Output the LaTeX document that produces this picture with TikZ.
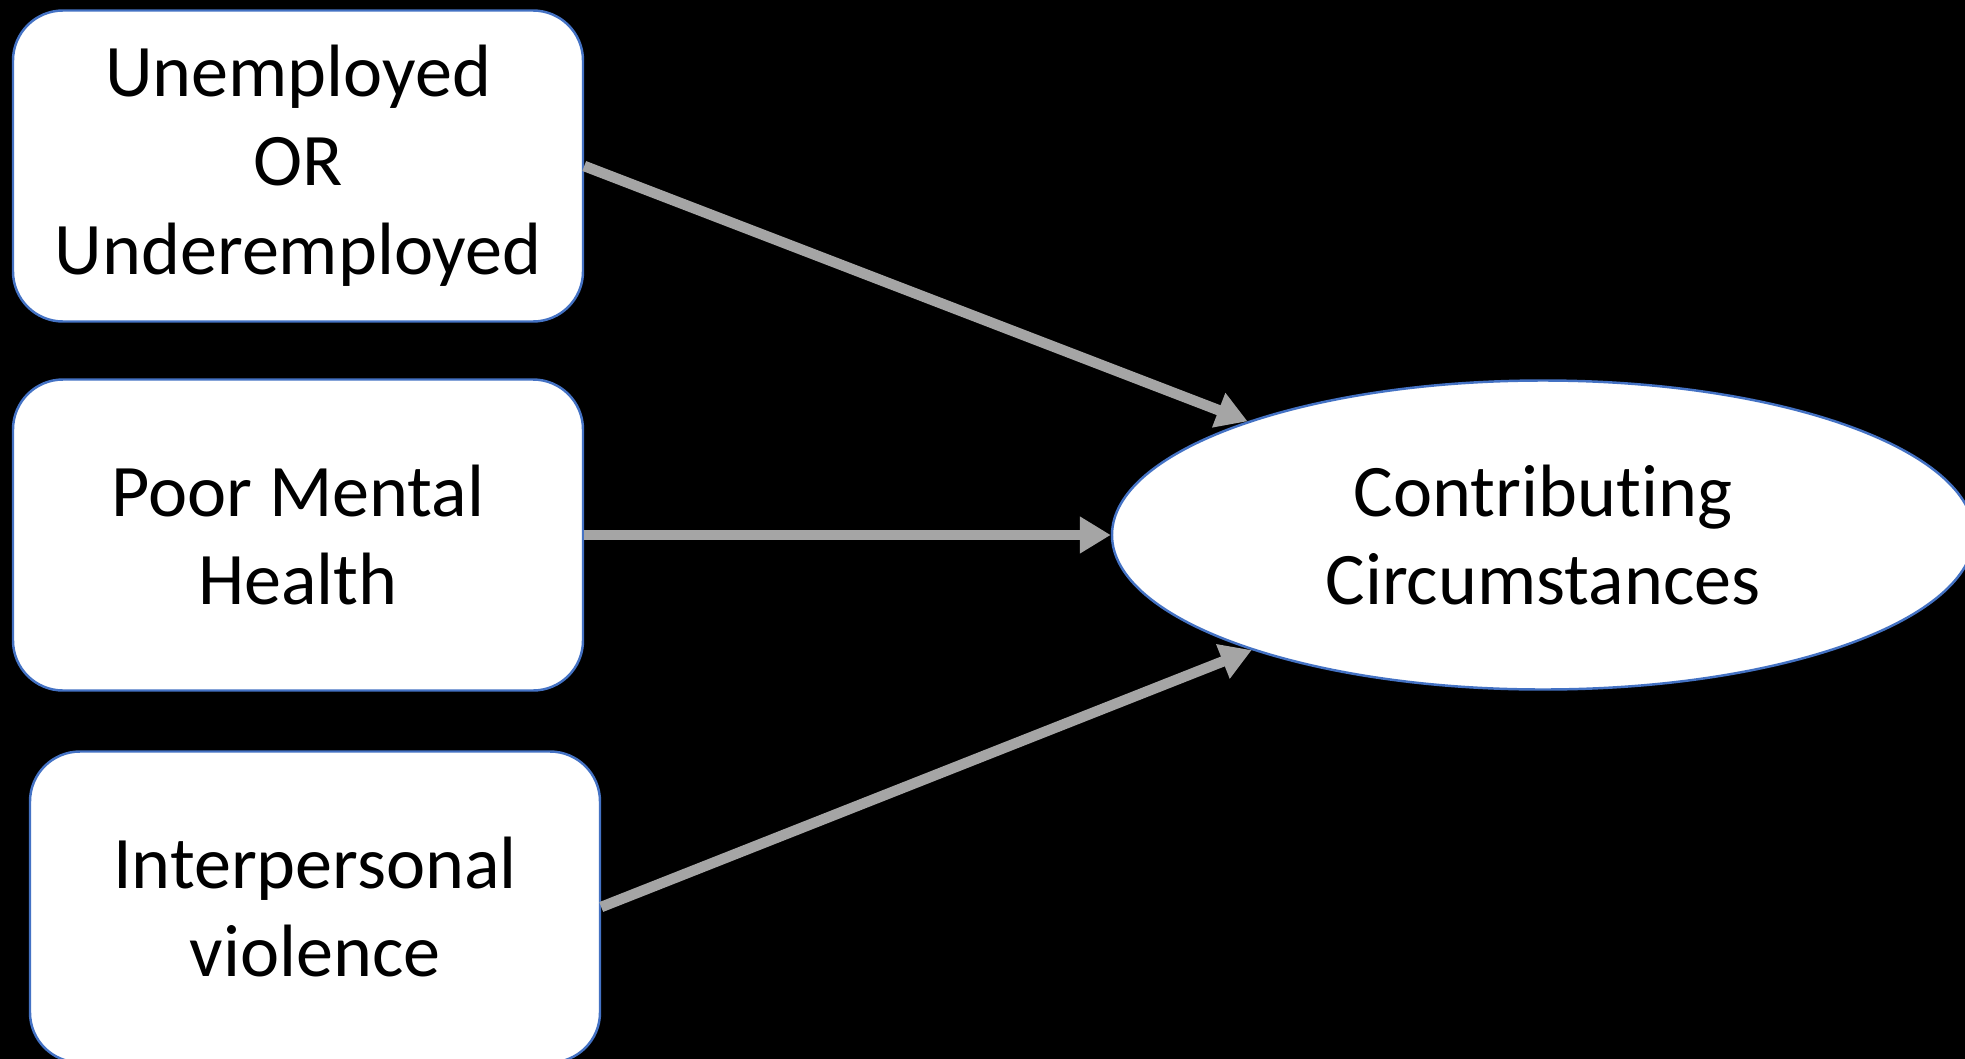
\documentclass[tikz,border=0pt]{standalone}
\usepackage{fontspec}
\setmainfont{Carlito}[Ligatures=NoCommon]
\usetikzlibrary{arrows.meta,shapes.geometric}
\definecolor{edgeblue}{RGB}{68, 114, 196}
\definecolor{arrowgray}{RGB}{165, 165, 165}

\tikzset{
    causebox/.style={draw=edgeblue, line width=0.7pt, fill=white, rounded corners=0.5cm,
                     minimum width=5.70cm, minimum height=3.11cm, inner sep=0pt, align=center,
                     font=\fontsize{21.1}{25.3}\selectfont},
    outcome/.style={ellipse, draw=edgeblue, line width=0.7pt, fill=white,
                    minimum width=8.62cm, minimum height=3.09cm, inner sep=0pt, align=center,
                    font=\fontsize{21.1}{25.3}\selectfont},
    causearrow/.style={draw=arrowgray, line width=3pt, -{Triangle[length=0.31cm, width=0.35cm]}}
}

\begin{document}
\begin{tikzpicture}
            % Background & frame
            \fill[black] (0.00, 0.00) rectangle (19.65, -10.59);
            \useasboundingbox (0.00, 0.00) rectangle (19.65, -10.59);
            % Causes
            \node[causebox] (unemployed) at ( 2.98, -1.66) {Unemployed\\OR\\Underemployed};
            \node[causebox] (mental)     at ( 2.98, -5.35) {Poor Mental\\Health};
            \node[causebox] (violence)   at ( 3.15, -9.07) {Interpersonal\\violence};
            % Outcome
            \node[outcome]  (circum)     at (15.43, -5.35)  {Contributing\\Circumstances};
            % Arrows
            \draw[causearrow] (unemployed.east) -- (circum);
            \draw[causearrow] (mental.east)     -- (circum.west);
            \draw[causearrow] (violence.east)   -- (circum);
        \end{tikzpicture}
\end{document}
